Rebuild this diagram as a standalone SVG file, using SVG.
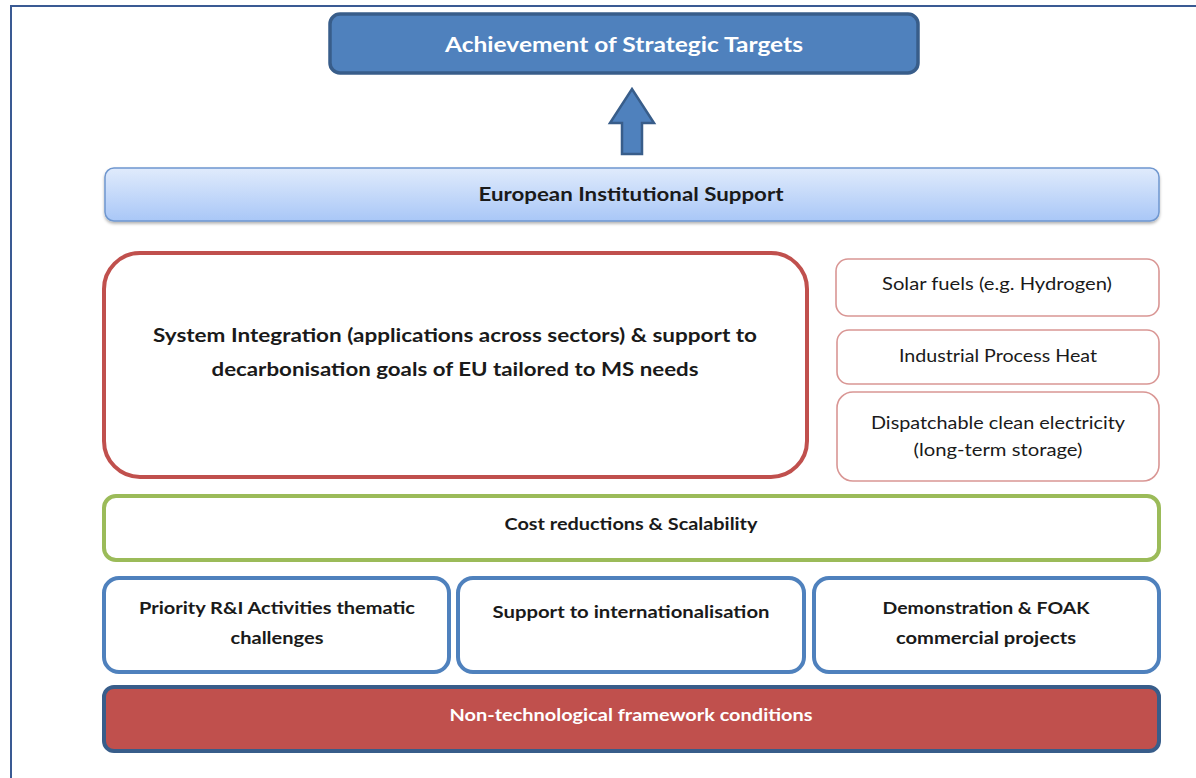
<svg xmlns="http://www.w3.org/2000/svg" width="1196" height="778" viewBox="0 0 1196 778">
<defs>
<linearGradient id="gEU" x1="0" y1="0" x2="0" y2="1">
<stop offset="0" stop-color="#e0ebfc"/>
<stop offset="1" stop-color="#a9c7f7"/>
</linearGradient>
<filter id="sh" x="-5%" y="-20%" width="110%" height="150%">
<feDropShadow dx="0" dy="2" stdDeviation="1.5" flood-color="#000" flood-opacity="0.3"/>
</filter>
</defs>
<style>
text{font-family:Lato,"Open Sans","Liberation Sans",sans-serif;text-anchor:middle;fill:#1a1a1a}
.b{font-weight:bold}
.w{fill:#ffffff}
.rs{fill:#ffffff;stroke:#d99694;stroke-width:1.6}
.bl{fill:#ffffff;stroke:#4f81bd;stroke-width:4}
</style>
<rect width="1196" height="778" fill="#ffffff"/>
<path d="M11 778 V6 H1196" fill="none" stroke="#3a5a93" stroke-width="2"/>

<g id="target">
<rect x="330" y="14" width="588" height="59" rx="10" fill="#4f81bd" stroke="#385d8a" stroke-width="3.5"/>
<text class="b w" x="624" y="52" font-size="20" textLength="358" lengthAdjust="spacingAndGlyphs">Achievement of Strategic Targets</text>
</g>

<g id="connectors">
<path d="M622 154 V123 H610 L632 89 L654 123 H642 V154 Z" fill="#4f81bd" stroke="#385d8a" stroke-width="2.5" stroke-linejoin="miter"/>
</g>

<g id="eu-support">
<rect x="105" y="168" width="1054" height="53" rx="9" fill="url(#gEU)" stroke="#6f97cf" stroke-width="1.5" filter="url(#sh)"/>
<text class="b" x="631" y="201" font-size="18" textLength="305" lengthAdjust="spacingAndGlyphs">European Institutional Support</text>
</g>

<g id="system-integration">
<rect x="104" y="253" width="703" height="224" rx="36" fill="#ffffff" stroke="#c0504d" stroke-width="4"/>
<text class="b" x="455" y="342" font-size="18" textLength="604" lengthAdjust="spacingAndGlyphs">System Integration (applications across sectors) &amp; support to</text>
<text class="b" x="455" y="376" font-size="18" textLength="487" lengthAdjust="spacingAndGlyphs">decarbonisation goals of EU tailored to MS needs</text>
</g>

<g id="solar-fuels">
<rect class="rs" x="836" y="259" width="323" height="57" rx="12"/>
<text x="997" y="290" font-size="17" textLength="230" lengthAdjust="spacingAndGlyphs">Solar fuels (e.g. Hydrogen)</text>
</g>

<g id="process-heat">
<rect class="rs" x="837" y="330" width="322" height="54" rx="12"/>
<text x="998" y="362" font-size="17" textLength="198" lengthAdjust="spacingAndGlyphs">Industrial Process Heat</text>
</g>

<g id="dispatchable">
<rect class="rs" x="837" y="392" width="322" height="89" rx="16"/>
<text x="998" y="429" font-size="17" textLength="254" lengthAdjust="spacingAndGlyphs">Dispatchable clean electricity</text>
<text x="998" y="456" font-size="17" textLength="169" lengthAdjust="spacingAndGlyphs">(long-term storage)</text>
</g>

<g id="cost">
<rect x="104" y="496" width="1055" height="64" rx="12" fill="#ffffff" stroke="#9bbb59" stroke-width="4"/>
<text class="b" x="631" y="530" font-size="17" textLength="253" lengthAdjust="spacingAndGlyphs">Cost reductions &amp; Scalability</text>
</g>

<g id="priority">
<rect class="bl" x="104" y="578" width="345" height="94" rx="15"/>
<text class="b" x="277" y="614" font-size="17" textLength="276" lengthAdjust="spacingAndGlyphs">Priority R&amp;I Activities thematic</text>
<text class="b" x="277" y="644" font-size="17" textLength="93" lengthAdjust="spacingAndGlyphs">challenges</text>
</g>

<g id="internationalisation">
<rect class="bl" x="458" y="578" width="346" height="94" rx="15"/>
<text class="b" x="631" y="618" font-size="17" textLength="277" lengthAdjust="spacingAndGlyphs">Support to internationalisation</text>
</g>

<g id="demonstration">
<rect class="bl" x="814" y="578" width="345" height="94" rx="15"/>
<text class="b" x="986" y="614" font-size="17" textLength="207" lengthAdjust="spacingAndGlyphs">Demonstration &amp; FOAK</text>
<text class="b" x="986" y="644" font-size="17" textLength="180" lengthAdjust="spacingAndGlyphs">commercial projects</text>
</g>

<g id="non-tech">
<rect x="104" y="687" width="1055" height="64" rx="10" fill="#c0504d" stroke="#385d8a" stroke-width="4"/>
<text class="b w" x="631" y="721" font-size="17" textLength="363" lengthAdjust="spacingAndGlyphs">Non-technological framework conditions</text>
</g>
</svg>
